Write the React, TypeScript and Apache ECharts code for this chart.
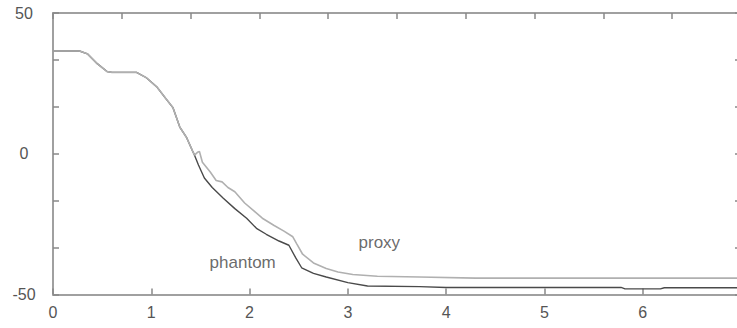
import React, { useEffect, useRef } from "react";
import * as echarts from "echarts";

const xTickLabels = [0, 1, 2, 3, 4, 5, 6, 7];
const yTickLabels = [-50, 0, 50];

const proxyX = [0, 0.27, 0.35, 0.45, 0.55, 0.6, 0.85, 0.95, 1.06, 1.15, 1.22, 1.29, 1.36, 1.42, 1.44, 1.47, 1.49, 1.52, 1.6, 1.66, 1.72, 1.78, 1.85, 1.95, 2.05, 2.13, 2.25, 2.35, 2.44, 2.48, 2.54, 2.65, 2.78, 2.9, 3.05, 3.3, 3.73, 4.3, 7];
const proxyY = [36.5, 36.5, 35.5, 32, 29.2, 28.9, 28.9, 27, 23.6, 19.5, 16.4, 9.5, 5.7, 1, -0.5, 0.5, 0.8, -3, -6.5, -9.5, -10, -12, -13.5, -17.5, -20.5, -22.9, -25.5, -27.5, -29.5, -32, -35.7, -38.8, -40.8, -42, -42.9, -43.5, -43.8, -44.2, -44.2];

const phantomX = [0, 0.27, 0.35, 0.45, 0.55, 0.6, 0.85, 0.95, 1.06, 1.15, 1.22, 1.29, 1.36, 1.42, 1.44, 1.48, 1.54, 1.62, 1.73, 1.85, 1.97, 2.07, 2.17, 2.3, 2.4, 2.47, 2.53, 2.65, 2.78, 3.0, 3.2, 3.73, 4.0, 5.78, 5.82, 6.18, 6.22, 7];
const phantomY = [36.5, 36.5, 35.5, 32, 29.2, 28.9, 28.9, 27, 23.6, 19.5, 16.4, 9.5, 5.7, 1, -0.5, -4, -8.6, -12, -15.7, -19.5, -22.9, -26.5, -28.6, -31, -32.5, -37, -40.5, -42.5, -43.8, -45.8, -47, -47.2, -47.5, -47.5, -48, -48, -47.6, -47.6];

const annotationNames = ["phantom", "proxy"];
const annotationX = [1.93, 3.32];
const annotationY = [-38.8, -31.7];

const FONT = "'Liberation Sans', Arial, sans-serif";
const AXIS_COLOR = "#a0a0a0";
const TEXT_COLOR = "#555";

export default function App() {
  const ref = useRef<HTMLDivElement>(null);
  useEffect(() => {
    if (!ref.current) return;
    const chart = echarts.init(ref.current, null, { renderer: "svg" });
    const zip = (xs: number[], ys: number[]) => xs.map((x, i) => [x, ys[i]]);
    const yFmt = (v: number) => {
      const r = Math.round(v);
      return Math.abs(v - r) < 0.01 && yTickLabels.includes(r) ? String(r) : "";
    };
    const xFmt = (v: number) => {
      const r = Math.round(v);
      return xTickLabels.includes(r) && r < 7 ? String(r) : "";
    };
    const axisLine = { show: true, onZero: false, lineStyle: { color: AXIS_COLOR, width: 2 } };
    const axisTick = { show: true, inside: true, length: 6, lineStyle: { color: "#888", width: 1.5 } };
    chart.setOption({
      animation: false,
      backgroundColor: "#fff",
      grid: { left: 53, top: 13, width: 688, height: 281.5, containLabel: false, outerBoundsMode: "none" },
      xAxis: [
        {
          type: "value", position: "bottom", min: 0, max: 7, interval: 1,
          axisLine, axisTick, splitLine: { show: false },
          axisLabel: { show: true, formatter: xFmt, color: TEXT_COLOR, fontSize: 16, fontFamily: FONT, margin: 10 },
        },
        {
          type: "value", position: "top", min: 0, max: 10, interval: 1,
          axisLine, axisTick, splitLine: { show: false }, axisLabel: { show: false },
        },
      ],
      yAxis: [
        {
          type: "value", position: "left", min: -50, max: 50, interval: 50 / 3,
          axisLine, axisTick, splitLine: { show: false },
          axisLabel: { show: true, formatter: yFmt, color: TEXT_COLOR, fontSize: 16, fontFamily: FONT, align: "center", margin: 29 },
        },
        {
          type: "value", position: "right", min: -50, max: 50, interval: 50 / 3,
          axisLine, axisTick, splitLine: { show: false }, axisLabel: { show: false },
        },
      ],
      series: [
        {
          name: "phantom", type: "line", data: zip(phantomX, phantomY), showSymbol: false,
          lineStyle: { color: "#4a4a4a", width: 1.4 }, z: 2,
        },
        {
          name: "proxy", type: "line", data: zip(proxyX, proxyY), showSymbol: false,
          lineStyle: { color: "#b0b0b0", width: 1.6 }, z: 3,
        },
        {
          name: "labels", type: "scatter", symbolSize: 0, silent: true,
          data: annotationNames.map((n, i) => ({ name: n, value: [annotationX[i], annotationY[i]] })),
          label: {
            show: true, position: "inside", formatter: (p: any) => p.name,
            color: "#444", fontSize: 17, fontFamily: FONT,
          },
        },
      ],
    });
    return () => chart.dispose();
  }, []);
  return <div ref={ref} style={{ position: "absolute", left: 0, top: 0, width: 737, height: 328 }} />;
}
